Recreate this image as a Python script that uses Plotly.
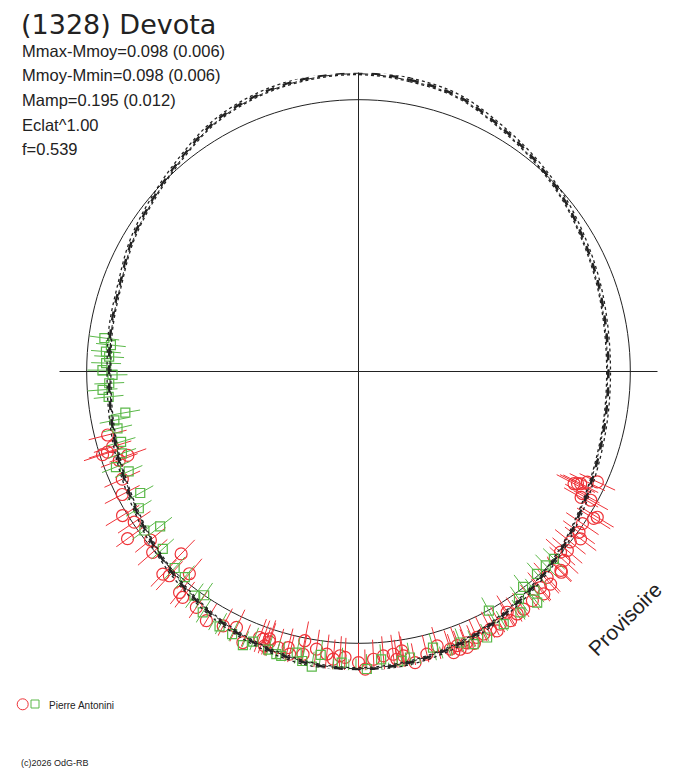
import plotly.graph_objects as go

# polar light curve: theta = rotation phase (deg, clockwise from top), r = relative flux
fit_theta = list(range(0, 361, 10))
fit_r = [1.099, 1.090, 1.077, 1.042, 1.013, 0.987, 0.960, 0.940, 0.925, 0.920,
         0.925, 0.938, 0.960, 0.990, 1.018, 1.045, 1.070, 1.088, 1.097, 1.090,
         1.072, 1.048, 1.018, 0.988, 0.960, 0.940, 0.925, 0.918, 0.925, 0.935,
         0.963, 0.988, 1.020, 1.060, 1.083, 1.095, 1.099]
fit_sigma = 0.007

red_theta = [114.8, 115.8, 116.8, 117.1, 117.5, 118.6, 119.0, 119.5, 121.4, 122.0,
             124.2, 126.1, 127.0, 128.8, 130.6, 131.8, 132.6, 134.5, 134.7, 137.5,
             137.9, 139.9, 140.2, 142.8, 145.2, 146.8, 148.3, 148.6, 150.7, 151.9,
             152.9, 154.5, 156.0, 156.9, 158.3, 158.5, 159.9, 160.2, 161.3, 161.7,
             164.0, 166.4, 169.0, 171.0, 171.2, 172.4, 173.0, 175.0, 177.0, 178.7,
             180.0, 182.7, 183.7, 185.0, 186.4, 188.6, 191.1, 191.3, 193.7, 194.3,
             196.2, 198.2, 198.4, 198.9, 199.6, 200.4, 203.1, 205.5, 208.0, 211.4,
             214.5, 217.9, 219.0, 219.9, 222.8, 224.0, 224.2, 228.7, 231.0, 234.1,
             236.1, 238.6, 242.5, 245.5, 249.6, 250.0, 252.0, 252.2, 253.0, 255.8]
red_r = [0.968, 0.935, 0.916, 0.905, 0.894, 0.938, 0.977, 0.941, 1.029, 1.020,
         0.996, 1.004, 1.023, 1.000, 1.012, 0.997, 1.027, 1.044, 1.050, 1.027,
         1.054, 1.039, 1.065, 1.058, 1.065, 1.066, 1.041, 1.074, 1.066, 1.082,
         1.065, 1.070, 1.071, 1.087, 1.074, 1.091, 1.088, 1.072, 1.092, 1.076,
         1.050, 1.070, 1.091, 1.059, 1.040, 1.068, 1.048, 1.050, 1.060, 1.095,
         1.071, 1.053, 1.048, 1.062, 1.046, 1.033, 1.060, 1.010, 1.070, 1.048,
         1.058, 1.047, 1.037, 1.067, 1.045, 1.044, 1.084, 1.043, 1.060, 1.074,
         1.053, 1.053, 1.046, 0.970, 1.024, 1.036, 0.936, 1.008, 0.985, 1.049,
         0.994, 1.017, 0.980, 0.955, 0.939, 0.903, 0.990, 0.970, 0.946, 0.952]
red_err = 0.072

green_theta = [133.8, 136.0, 138.6, 141.2, 142.3, 142.6, 144.8, 146.1, 150.1, 151.4,
               154.2, 156.0, 157.1, 159.4, 161.6, 162.0, 163.6, 164.9, 168.0, 169.8,
               171.5, 172.9, 174.1, 175.5, 178.4, 180.5, 181.9, 183.3, 184.9, 186.3,
               187.6, 189.0, 191.0, 192.4, 195.2, 196.2, 198.0, 201.3, 202.9, 205.7,
               208.6, 210.1, 212.9, 214.6, 216.2, 220.2, 223.1, 227.8, 232.0, 233.4,
               238.1, 240.9, 246.5, 248.5, 250.9, 253.5, 256.7, 258.7, 260.0, 264.2,
               265.9, 267.3, 269.2, 270.3, 271.9, 273.4, 274.5, 276.1, 277.5]
green_r = [0.996, 0.992, 0.993, 1.034, 1.075, 0.997, 1.024, 1.068, 1.072, 1.002,
           1.087, 1.118, 1.089, 1.065, 1.109, 1.113, 1.110, 1.052, 1.136, 1.069,
           1.076, 1.133, 1.132, 1.062, 1.095, 1.111, 1.114, 1.073, 1.115, 1.167,
           1.052, 1.099, 1.085, 1.059, 1.084, 1.083, 1.076, 1.067, 1.093, 1.072,
           1.068, 1.105, 1.055, 1.000, 1.022, 0.990, 0.990, 0.972, 0.926, 0.981,
           0.952, 0.919, 0.922, 0.959, 0.921, 0.911, 0.911, 0.916, 0.871, 0.924,
           0.944, 0.918, 0.905, 0.942, 0.929, 0.919, 0.932, 0.916, 0.943]
green_err = 0.055

title = "(1328) Devota"
info_lines = ["Mmax-Mmoy=0.098 (0.006)", "Mmoy-Mmin=0.098 (0.006)",
              "Mamp=0.195 (0.012)", "Eclat^1.00", "f=0.539"]
observer = "Pierre Antonini"
credit = "(c)2026 OdG-RB"

RED = "#ee3338"
GREEN = "#5ab848"
INK = "#222222"
W, H = 688, 768


def radial_bars(theta, r, err):
    tt, rr = [], []
    for t, v in zip(theta, r):
        tt += [t, t, None]
        rr += [v - err, v + err, None]
    return tt, rr


fig = go.Figure()

# reference circle at mean flux
circ_theta = list(range(0, 361, 2))
fig.add_trace(go.Scatterpolar(theta=circ_theta, r=[1.0] * len(circ_theta), mode="lines",
                              line=dict(color=INK, width=1), hoverinfo="skip"))

for th, rv, er, col, sym, sz in [(red_theta, red_r, red_err, RED, "circle-open", 12),
                                 (green_theta, green_r, green_err, GREEN, "square-open", 9)]:
    bt, br = radial_bars(th, rv, er)
    fig.add_trace(go.Scatterpolar(theta=bt, r=br, mode="lines",
                                  line=dict(color=col, width=1), hoverinfo="skip"))
    fig.add_trace(go.Scatterpolar(theta=th, r=rv, mode="markers",
                                  marker=dict(symbol=sym, size=sz, color=col,
                                              line=dict(width=1.2))))

# fitted curve with its uncertainty band
for k, dash, w in [(0, "dash", 2.2), (-1, "dot", 1.3), (1, "dot", 1.3), (-0.5, "dashdot", 1)]:
    fig.add_trace(go.Scatterpolar(theta=fit_theta, r=[v + k * fit_sigma for v in fit_r],
                                  mode="lines", line=dict(color=INK, width=w, dash=dash,
                                                          shape="spline"),
                                  hoverinfo="skip"))

fig.update_layout(
    width=W, height=H, showlegend=False,
    margin=dict(l=0, r=0, t=0, b=0),
    paper_bgcolor="white",
    font=dict(family="Liberation Sans, Arial, sans-serif", color=INK),
    polar=dict(
        domain=dict(x=[59.5 / W, 657.5 / W], y=[97.5 / H, 695.5 / H]),
        bgcolor="white",
        radialaxis=dict(range=[0, 1.1], visible=False),
        angularaxis=dict(rotation=90, direction="clockwise", tickmode="linear",
                         tick0=0, dtick=90, showgrid=True, gridcolor=INK, gridwidth=1,
                         showticklabels=False, ticks="", showline=False),
    ),
)

ann = [dict(text=title, x=19 / W, y=1 - 24 / H,
            font=dict(size=27, family="DejaVu Sans, sans-serif"))]
for i, line in enumerate(info_lines):
    ann.append(dict(text=line, x=20 / W, y=1 - (51 + 24.5 * i) / H, font=dict(size=16.5)))
ann.append(dict(text=observer, x=47 / W, y=1 - 705.5 / H, font=dict(size=10)))
ann.append(dict(text=credit, x=19 / W, y=1 - 762.5 / H, font=dict(size=9)))
for a in ann:
    fig.add_annotation(xref="paper", yref="paper", xanchor="left", yanchor="middle",
                       showarrow=False, **a)
fig.add_annotation(text="Provisoire", xref="paper", yref="paper", x=624 / W, y=1 - 619 / H,
                   xanchor="center", yanchor="middle", showarrow=False, textangle=-45,
                   font=dict(size=21, color=INK))

# legend glyphs
fig.add_shape(type="circle", xref="paper", yref="paper", x0=17.2 / W, x1=28.2 / W,
              y0=1 - 709.8 / H, y1=1 - 698.8 / H, line=dict(color=RED, width=1))
fig.add_shape(type="rect", xref="paper", yref="paper", x0=31 / W, x1=39 / W,
              y0=1 - 708 / H, y1=1 - 700 / H, line=dict(color=GREEN, width=1))

# drop the browser's default 8px page margin so the figure fills the window
fig.write_html("out.html", config={"displayModeBar": False},
               post_script="document.body.style.margin='0px';")
